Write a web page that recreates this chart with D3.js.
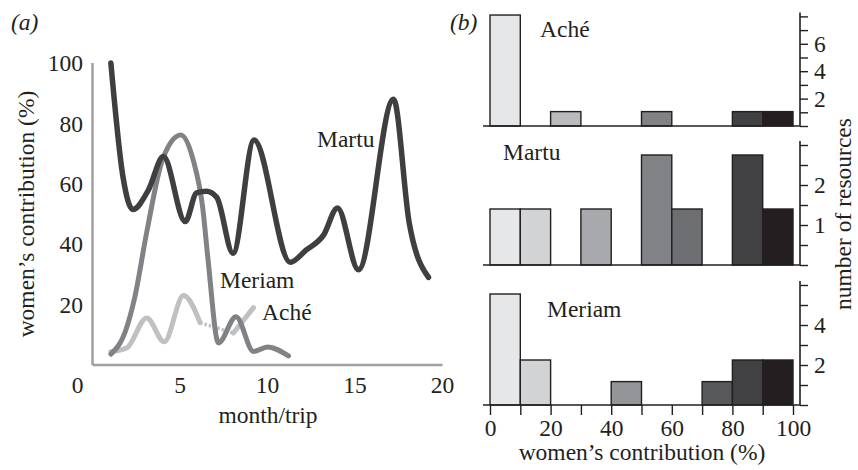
<!DOCTYPE html>
<meta charset="utf-8">
<script src="https://d3js.org/d3.v7.min.js"></script>
<style type="text/css">
body { margin: 0; background: #fff; }
svg { display: block; }
text { font-family: "Liberation Serif", "Times New Roman", serif; font-size: 23.5px; fill: #231f20; }
.hist .domain { stroke: #231f20; stroke-width: 1.6px; }
.hist line { stroke: #231f20; stroke-width: 1.4px; }
</style>
<body>
<script>

// ---- panel (a) data: women's contribution by month/trip
var martuMonth  = [1.05, 1.75, 2.3, 3.2, 4.05, 5.3, 5.95, 6.5, 7.1, 8.03, 9.23, 11.3, 12.2, 13.2, 14.0, 15.2, 17.2, 18.1, 19.2];
var martuValue  = [100, 62, 51.5, 58, 69, 47.5, 57, 57.5, 55.5, 37, 74.5, 34, 38, 43, 52, 31.5, 88, 47, 29];

var meriamMonth = [1.05, 1.9, 2.4, 3.1, 4.0, 5.05, 5.75, 6.3, 6.6, 7.2, 8.2, 9.2, 10.0, 11.2];
var meriamValue = [3.6, 11.5, 22, 44, 68, 76.2, 68, 52, 35, 7.3, 16, 4.5, 6, 3];

var acheMonth   = [1.05, 1.95, 3.1, 4.1, 5.2, 6.15, 8.05, 9.2];
var acheValue   = [4.4, 5.6, 15.6, 7.7, 23, 14, 10.6, 19];
var acheGapAfter = 5;   // index where the dotted (missing) stretch starts

var yTicksA = [20, 40, 60, 80, 100];
var xTicksA = [0, 5, 10, 15, 20];

// ---- panel (b) data: number of resources per 10% bin
var binStart = [0, 10, 20, 30, 40, 50, 60, 70, 80, 90];
var binColor = ['#e6e7e8', '#d1d3d4', '#b8babc', '#a7a9ac', '#939598', '#808285', '#6d6e71', '#58595b', '#414042', '#231f20'];
var acheCounts   = [8.1, 0, 1.05, 0, 0, 1.05, 0, 0, 1.05, 1.05];
var martuCounts  = [1.4, 1.4, 0, 1.4, 0, 2.75, 1.4, 0, 2.75, 1.4];
var meriamCounts = [5.55, 2.25, 0, 0, 1.17, 0, 0, 1.17, 2.25, 2.25];
var xTicksB = [0, 20, 40, 60, 80, 100];

var svg = d3.select('body').append('svg')
  .attr('width', 858)
  .attr('height', 470);

// ================= panel (a) =================
var xA = d3.scaleLinear().domain([0, 20]).range([92.5, 442.5]);
var yA = d3.scaleLinear().domain([0, 100]).range([365, 63]);

var gA = svg.append('g');

gA.append('line')
  .attr('x1', xA(0)).attr('x2', xA(0))
  .attr('y1', yA(100)).attr('y2', yA(0))
  .attr('stroke', '#a0a0a0').attr('stroke-width', 2.5);
gA.append('line')
  .attr('x1', xA(0)).attr('x2', xA(20))
  .attr('y1', yA(0)).attr('y2', yA(0))
  .attr('stroke', '#a0a0a0').attr('stroke-width', 2.5);

gA.selectAll('.ytA')
  .data(yTicksA).enter().append('text')
  .attr('x', 83)
  .attr('y', function(d) { return yA(d); })
  .attr('dy', '0.35em')
  .attr('text-anchor', 'end')
  .text(function(d) { return d; });

gA.selectAll('.xtA')
  .data(xTicksA).enter().append('text')
  .attr('x', function(d) { return xA(d) - (d === 0 ? 15 : 0); })
  .attr('y', 393)
  .attr('text-anchor', 'middle')
  .text(function(d) { return d; });

gA.append('text')
  .attr('x', 268).attr('y', 423)
  .attr('text-anchor', 'middle')
  .text('month/trip');

gA.append('text')
  .attr('transform', 'translate(34,214) rotate(-90)')
  .attr('text-anchor', 'middle')
  .text('women\u2019s contribution (%)');

gA.append('text')
  .attr('x', 11).attr('y', 30)
  .style('font-style', 'italic')
  .text('(a)');

var line = d3.line()
  .x(function(d) { return xA(d[0]); })
  .y(function(d) { return yA(d[1]); })
  .curve(d3.curveMonotoneX);

function pairs(ms, vs) { return ms.map(function(m, i) { return [m, vs[i]]; }); }

var ache = pairs(acheMonth, acheValue);
gA.append('path')
  .datum(ache.slice(0, acheGapAfter + 1))
  .attr('d', line)
  .attr('fill', 'none').attr('stroke', '#bfc0c2').attr('stroke-width', 5)
  .attr('stroke-linecap', 'round').attr('stroke-linejoin', 'round');
gA.append('path')
  .datum(ache.slice(acheGapAfter, acheGapAfter + 2))
  .attr('d', line)
  .attr('fill', 'none').attr('stroke', '#bfc0c2').attr('stroke-width', 3.5)
  .attr('stroke-dasharray', '2.5,2');
gA.append('path')
  .datum(ache.slice(acheGapAfter + 1))
  .attr('d', line)
  .attr('fill', 'none').attr('stroke', '#bfc0c2').attr('stroke-width', 5)
  .attr('stroke-linecap', 'round');

gA.append('path')
  .datum(pairs(meriamMonth, meriamValue))
  .attr('d', line)
  .attr('fill', 'none').attr('stroke', '#808285').attr('stroke-width', 5)
  .attr('stroke-linecap', 'round').attr('stroke-linejoin', 'round');

gA.append('path')
  .datum(pairs(martuMonth, martuValue))
  .attr('d', line)
  .attr('fill', 'none').attr('stroke', '#3f3e41').attr('stroke-width', 5.5)
  .attr('stroke-linecap', 'round').attr('stroke-linejoin', 'round');

gA.append('text').attr('x', 317).attr('y', 147).text('Martu');
gA.append('text').attr('x', 220).attr('y', 288).text('Meriam');
gA.append('text').attr('x', 262).attr('y', 320).text('Ach\u00e9');

// ================= panel (b) =================
var xB = d3.scaleLinear().domain([0, 100]).range([490, 793]);
var axisX = 800;

var panels = [
  {name: 'Ach\u00e9',  counts: acheCounts,   base: 126, top: 16.4, max: 8, step: 1,   labels: [2, 4, 6], lx: 540, ly: 37},
  {name: 'Martu',  counts: martuCounts,  base: 265, top: 145,  max: 3, step: 0.5, labels: [1, 2],    lx: 503, ly: 160},
  {name: 'Meriam', counts: meriamCounts, base: 405, top: 285,  max: 6, step: 1,   labels: [2, 4],    lx: 547, ly: 317}
];

panels.forEach(function(p, k) {
  var y = d3.scaleLinear().domain([0, p.max]).range([p.base, p.top]);
  var g = svg.append('g').attr('class', 'hist');

  g.selectAll('rect')
    .data(binStart.filter(function(b, i) { return p.counts[i] > 0; }))
    .enter().append('rect')
    .attr('x', function(b) { return xB(b); })
    .attr('width', xB(10) - xB(0))
    .attr('y', function(b) { return y(p.counts[binStart.indexOf(b)]); })
    .attr('height', function(b) { return p.base - y(p.counts[binStart.indexOf(b)]); })
    .attr('fill', function(b) { return binColor[binStart.indexOf(b)]; })
    .attr('stroke', '#231f20')
    .attr('stroke-width', 1.4);

  // baseline
  g.append('line')
    .attr('x1', 483).attr('x2', axisX)
    .attr('y1', p.base).attr('y2', p.base)
    .attr('stroke', '#231f20').attr('stroke-width', 1.6);

  // right count axis
  var ticks = d3.range(0, p.max + p.step / 2, p.step);
  var ax = d3.axisRight(y)
    .tickValues(ticks)
    .tickSize(8)
    .tickPadding(6)
    .tickFormat(function(d) { return p.labels.indexOf(d) >= 0 ? d : ''; });
  var axG = g.append('g')
    .attr('transform', 'translate(' + axisX + ',0)')
    .call(ax);
  axG.select('.domain').attr('d', 'M0,' + (p.top - 4) + 'V' + p.base);
  axG.selectAll('text')
    .style('font-family', '"Liberation Serif", serif')
    .style('font-size', '23.5px')
    .attr('fill', '#231f20');

  g.append('text').attr('x', p.lx).attr('y', p.ly).text(p.name);

  if (k === panels.length - 1) {
    var bx = d3.axisBottom(xB)
      .tickValues(binStart.concat([100]))
      .tickSize(10)
      .tickFormat(function(d) { return xTicksB.indexOf(d) >= 0 ? d : ''; });
    var bxG = g.append('g')
      .attr('transform', 'translate(0,' + p.base + ')')
      .call(bx);
    bxG.select('.domain').remove();
    bxG.selectAll('text')
      .style('font-family', '"Liberation Serif", serif')
      .style('font-size', '23.5px')
      .attr('fill', '#231f20')
      .attr('y', 14);
  }
});

svg.append('text')
  .attr('x', 642).attr('y', 460)
  .attr('text-anchor', 'middle')
  .text('women\u2019s contribution (%)');

svg.append('text')
  .attr('transform', 'translate(851,214) rotate(-90)')
  .attr('text-anchor', 'middle')
  .text('number of resources');

svg.append('text')
  .attr('x', 450).attr('y', 30)
  .style('font-style', 'italic')
  .text('(b)');

</script>
</body>
